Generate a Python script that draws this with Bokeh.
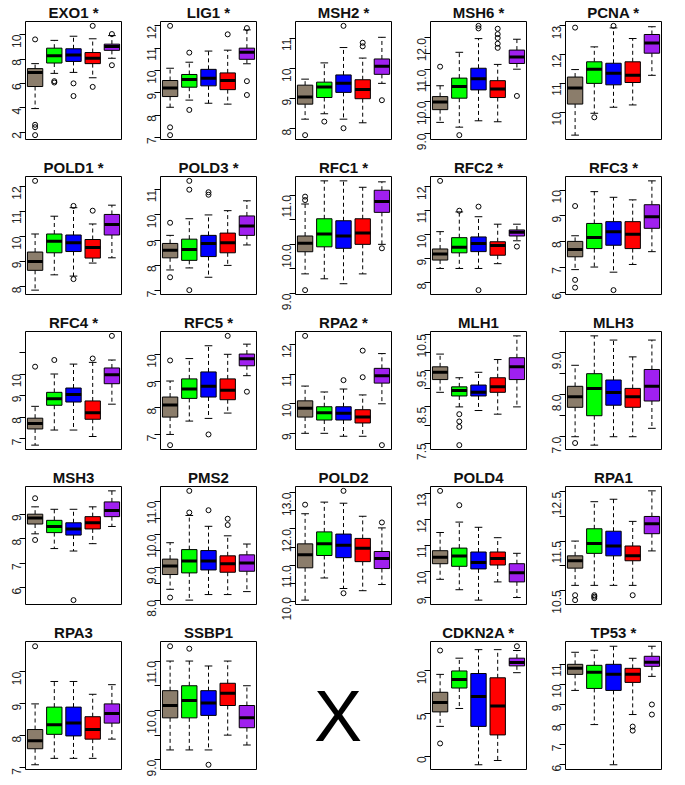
import math
from bokeh.plotting import figure
from bokeh.layouts import column, row
from bokeh.models import (FixedTicker, PrintfTickFormatter, Range1d, Label,
                          ColumnDataSource)
from bokeh.transform import dodge
from bokeh.embed import file_html
from bokeh.resources import INLINE

# ---------------- data ----------------
GENES = ["EXO1 *", "LIG1 *", "MSH2 *", "MSH6 *", "PCNA *",
         "POLD1 *", "POLD3 *", "RFC1 *", "RFC2 *", "RFC3 *",
         "RFC4 *", "RFC5 *", "RPA2 *", "MLH1", "MLH3",
         "MSH3", "PMS2", "POLD2", "POLD4", "RPA1",
         "RPA3", "SSBP1", "CDKN2A *", "TP53 *"]

GROUP_COLORS = ["#8B7D6B", "#00FF00", "#0000FF", "#FF0000", "#A020F0"]
GROUP_X = [1, 2, 3, 4, 5]

# five groups per gene
WHISK_LO = [
    [3.93, 6.82, 6.90, 6.46, 8.06], [8.35, 8.67, 8.53, 8.49, 10.30],
    [8.32, 8.50, 8.32, 8.20, 9.51], [9.35, 9.20, 9.40, 9.37, 11.02],
    [9.20, 9.96, 10.17, 10.25, 11.28], [7.86, 8.47, 8.42, 8.94, 9.15],
    [7.82, 7.90, 7.53, 8.00, 8.81], [9.40, 9.30, 9.20, 9.40, 10.00],
    [8.60, 8.60, 8.60, 8.80, 9.75], [6.90, 7.00, 6.80, 7.10, 7.60],
    [6.70, 7.40, 7.40, 7.10, 8.60], [7.00, 7.50, 7.60, 7.80, 9.20],
    [9.00, 9.00, 8.90, 8.90, 10.00], [8.90, 8.50, 8.40, 8.30, 8.50],
    [7.00, 6.80, 7.00, 7.00, 7.20], [8.20, 7.60, 7.50, 7.80, 8.50],
    [8.33, 8.00, 8.17, 8.17, 8.26], [10.04, 10.65, 10.36, 10.30, 10.47],
    [9.70, 9.30, 8.90, 9.60, 9.00], [10.60, 10.60, 10.60, 10.60, 11.30],
    [7.10, 7.30, 7.30, 7.30, 7.90], [9.20, 9.20, 9.20, 9.50, 9.30],
    [3.50, 5.60, -1.00, -0.50, 9.80], [9.70, 8.00, 6.00, 8.50, 10.40],
]
Q1 = [
    [5.74, 7.67, 7.80, 7.62, 8.71], [8.83, 9.25, 9.31, 9.14, 10.50],
    [8.82, 9.04, 9.21, 9.00, 9.81], [9.75, 10.11, 10.37, 10.13, 11.20],
    [10.28, 11.00, 10.95, 11.03, 12.05], [8.65, 9.35, 9.40, 9.14, 10.06],
    [8.30, 8.20, 8.35, 8.50, 9.19], [9.85, 9.95, 9.92, 10.00, 10.65],
    [8.95, 9.25, 9.30, 9.15, 9.95], [7.40, 7.72, 7.85, 7.72, 8.51],
    [7.45, 8.55, 8.70, 7.90, 9.55], [7.65, 8.35, 8.40, 8.30, 9.57],
    [9.55, 9.45, 9.45, 9.35, 10.70], [9.25, 8.80, 8.80, 8.90, 9.25],
    [7.70, 7.50, 7.75, 7.70, 7.85], [8.60, 8.25, 8.15, 8.40, 8.90],
    [8.78, 8.83, 8.92, 8.85, 8.88], [10.93, 11.27, 11.21, 11.10, 10.91],
    [10.30, 10.20, 10.10, 10.25, 9.60], [10.95, 11.25, 11.20, 11.10, 11.65],
    [7.60, 8.05, 8.00, 7.90, 8.40], [9.85, 9.85, 9.90, 10.10, 9.65],
    [5.20, 8.00, 3.50, 2.50, 10.60], [10.50, 9.80, 9.70, 10.10, 10.90],
]
MEDIAN = [
    [6.90, 8.27, 8.32, 8.06, 9.02], [9.21, 9.59, 9.65, 9.55, 10.82],
    [9.06, 9.39, 9.51, 9.31, 10.08], [9.99, 10.48, 10.72, 10.40, 11.40],
    [10.84, 11.49, 11.35, 11.28, 12.40], [9.00, 9.81, 9.75, 9.56, 10.48],
    [8.60, 8.63, 8.87, 8.90, 9.56], [10.02, 10.21, 10.17, 10.23, 10.87],
    [9.20, 9.48, 9.64, 9.55, 10.11], [7.68, 8.15, 8.38, 8.28, 8.96],
    [7.70, 8.85, 9.05, 8.20, 9.97], [8.10, 8.70, 8.80, 8.65, 9.83],
    [9.85, 9.70, 9.68, 9.55, 10.95], [9.45, 8.95, 8.90, 9.05, 9.60],
    [7.95, 8.15, 8.05, 7.95, 8.20], [8.85, 8.50, 8.40, 8.65, 9.15],
    [9.04, 9.19, 9.19, 9.11, 9.13], [11.29, 11.59, 11.55, 11.47, 11.19],
    [10.55, 10.60, 10.35, 10.50, 9.95], [11.10, 11.45, 11.40, 11.20, 11.85],
    [7.85, 8.35, 8.40, 8.20, 8.70], [10.10, 10.20, 10.15, 10.35, 9.85],
    [6.30, 9.00, 7.00, 5.90, 11.00], [10.80, 10.60, 10.50, 10.50, 11.10],
]
Q3 = [
    [7.21, 8.89, 8.84, 8.53, 9.22], [9.55, 9.82, 10.05, 9.89, 11.00],
    [9.45, 9.55, 9.79, 9.63, 10.32], [10.16, 10.74, 11.05, 10.66, 11.62],
    [11.22, 11.75, 11.70, 11.75, 12.70], [9.38, 10.10, 10.06, 9.88, 10.88],
    [8.87, 9.04, 9.19, 9.28, 9.96], [10.17, 10.52, 10.48, 10.52, 11.10],
    [9.41, 9.88, 9.91, 9.71, 10.20], [8.00, 8.70, 8.77, 8.77, 9.43],
    [7.95, 9.15, 9.35, 8.75, 10.28], [8.40, 9.08, 9.34, 9.08, 10.01],
    [10.10, 9.90, 9.90, 9.80, 11.20], [9.60, 9.05, 9.10, 9.30, 9.85],
    [8.20, 8.50, 8.35, 8.15, 8.60], [9.00, 8.75, 8.65, 8.90, 9.50],
    [9.25, 9.54, 9.51, 9.35, 9.38], [11.59, 11.92, 11.86, 11.74, 11.38],
    [10.80, 10.90, 10.75, 10.75, 10.30], [11.20, 11.75, 11.70, 11.40, 12.00],
    [8.20, 8.90, 8.90, 8.60, 9.00], [10.40, 10.50, 10.40, 10.55, 10.10],
    [7.50, 10.00, 9.70, 9.20, 11.50], [11.00, 10.95, 11.00, 10.80, 11.40],
]
WHISK_HI = [
    [7.62, 9.53, 9.87, 9.66, 9.92], [10.10, 10.37, 10.87, 10.91, 11.82],
    [9.65, 10.19, 10.70, 10.35, 11.04], [10.50, 11.55, 11.98, 11.17, 11.96],
    [11.48, 12.27, 12.93, 12.56, 12.97], [10.10, 10.81, 11.15, 10.50, 11.25],
    [9.19, 9.85, 10.00, 10.17, 10.56], [10.82, 11.29, 11.29, 11.16, 11.27],
    [10.13, 10.95, 10.75, 10.44, 10.44], [8.22, 9.94, 9.72, 9.62, 10.36],
    [8.50, 10.00, 10.46, 10.54, 10.65], [9.00, 9.84, 10.32, 10.00, 10.38],
    [10.60, 10.40, 10.50, 10.30, 11.70], [9.95, 9.30, 9.45, 9.80, 10.45],
    [8.70, 9.40, 9.30, 8.90, 9.30], [9.30, 9.20, 9.20, 9.30, 9.95],
    [9.75, 10.58, 10.25, 9.96, 9.71], [12.42, 12.74, 12.71, 12.35, 12.03],
    [11.50, 11.90, 11.70, 11.30, 10.70], [11.50, 12.30, 12.35, 11.90, 12.52],
    [9.00, 9.70, 9.70, 9.30, 9.60], [11.00, 11.00, 10.90, 11.00, 10.50],
    [9.60, 11.50, 12.50, 12.50, 12.40], [11.60, 11.70, 11.90, 11.30, 11.90],
]
# outliers: (group number 1-5, value)
OUTLIERS = [
    [(1, 9.61), (1, 2.60), (1, 2.40), (1, 1.75), (2, 6.18), (2, 6.07), (3, 6.00),
     (3, 4.96), (4, 10.72), (4, 5.71), (5, 10.05), (5, 7.49)],
    [(1, 12.00), (1, 7.45), (1, 7.10), (2, 10.80), (2, 8.23), (4, 11.62),
     (5, 11.90), (5, 9.52), (5, 8.90)],
    [(1, 7.79), (2, 8.24), (3, 11.42), (3, 8.02), (4, 10.86), (4, 10.74), (5, 8.95)],
    [(1, 11.10), (2, 8.95), (3, 12.38), (3, 12.30), (4, 12.29), (4, 12.12),
     (4, 12.00), (4, 11.82), (4, 11.69), (5, 10.18)],
    [(1, 12.94), (2, 9.82), (3, 13.00)],
    [(1, 12.22), (3, 11.22), (3, 8.30), (4, 11.03)],
    [(1, 9.69), (1, 7.53), (2, 11.35), (2, 11.00), (2, 7.02), (3, 10.90), (3, 10.80)],
    [(1, 10.97), (1, 10.90), (1, 9.07), (5, 9.92)],
    [(1, 12.24), (2, 11.00), (3, 11.17), (3, 7.70), (5, 9.51)],
    [(1, 9.38), (1, 6.50), (1, 6.20), (3, 6.10)],
    [(1, 10.34), (2, 10.65), (4, 10.72), (5, 11.77)],
    [(1, 9.77), (1, 6.60), (3, 7.00), (4, 10.69), (5, 8.60)],
    [(1, 12.30), (3, 10.80), (4, 11.80), (4, 10.90), (5, 8.60)],
    [(2, 8.30), (2, 8.10), (2, 7.95), (2, 7.45)],
    [(1, 6.85)],
    [(1, 9.65), (1, 7.95), (3, 5.50)],
    [(1, 8.08), (2, 10.67), (2, 11.33), (3, 10.74), (4, 10.48), (4, 10.29)],
    [(1, 12.67), (3, 10.23), (3, 13.05), (5, 12.18)],
    [(1, 13.10), (2, 12.55)],
    [(1, 10.40), (1, 10.30), (2, 10.40), (2, 10.37), (2, 10.34), (4, 10.40)],
    [(1, 10.80)],
    [(1, 11.30), (2, 11.25), (3, 8.90)],
    [(1, 12.40), (1, 1.50), (5, 12.90)],
    [(4, 7.90), (4, 7.70), (5, 9.00), (5, 8.50)],
]
# y-axis ticks: labelled ticks, unlabelled ticks, label format
TICKS = [
    [2, 4, 6, 8, 10], [7, 8, 9, 10, 11, 12], [8, 9, 10, 11], [9, 10, 11, 12],
    [10, 11, 12, 13], [8, 9, 10, 11, 12], [7, 8, 9, 10, 11], [9, 10, 11],
    [8, 9, 10, 11, 12], [6, 7, 8, 9, 10], [7, 8, 9, 10], [7, 8, 9, 10],
    [9, 10, 11, 12], [7.5, 8.5, 9.5, 10.5], [7, 8, 9], [6, 7, 8, 9],
    [8, 9, 10, 11], [10, 11, 12, 13], [9, 10, 11, 12, 13], [10.5, 11.5, 12.5],
    [7, 8, 9, 10], [9, 10, 11], [0, 5, 10], [6, 7, 8, 9, 10, 11],
]
MINOR_TICKS = [
    [], [], [], [9.5, 10.5, 11.5], [], [], [], [9.5, 10.5], [], [], [11], [],
    [], [8.0, 9.0, 10.0], [7.5, 8.5, 9.5], [], [8.5, 9.5, 10.5], [10.5, 11.5, 12.5],
    [], [11.0, 12.0], [], [9.5, 10.5], [], [],
]
TICK_FORMAT = ["%d", "%d", "%d", "%.1f", "%d", "%d", "%d", "%.1f", "%d", "%d", "%d", "%d",
               "%d", "%.1f", "%.1f", "%d", "%.1f", "%.1f", "%d", "%.1f", "%d", "%.1f", "%d", "%d"]

# ---------------- drawing ----------------
W = 135
H_ROW = 155
H_LAST = 157
FONT = "Liberation Sans"


def make_panel(i, height=H_ROW, bottom=16):
    vals = WHISK_LO[i] + WHISK_HI[i] + [v for _, v in OUTLIERS[i]]
    lo, hi = min(vals), max(vals)
    pad = 0.04 * (hi - lo)
    p = figure(width=W, height=height, x_range=Range1d(0.5, 5.5),
               y_range=Range1d(lo - pad, hi + pad), title=GENES[i],
               output_backend="svg", toolbar_location=None,
               min_border_left=25, min_border_right=14, min_border_top=0,
               min_border_bottom=bottom)
    p.title.align = "center"
    p.title.text_font = FONT
    p.title.text_font_size = "15px"
    p.title.text_font_style = "bold"
    p.title.text_color = "#111111"
    p.title.standoff = 2
    p.xaxis.visible = False
    p.grid.visible = False
    p.outline_line_color = "black"
    p.outline_line_width = 1
    p.outline_line_alpha = 1
    p.background_fill_color = "white"
    p.border_fill_color = "white"

    ax = p.yaxis[0]
    ax.ticker = FixedTicker(ticks=TICKS[i], minor_ticks=MINOR_TICKS[i])
    ax.formatter = PrintfTickFormatter(format=TICK_FORMAT[i])
    ax.major_label_orientation = math.pi / 2
    ax.axis_line_color = None
    ax.major_tick_out = 6
    ax.major_tick_in = 0
    ax.minor_tick_out = 6
    ax.minor_tick_in = 0
    ax.major_tick_line_color = "black"
    ax.minor_tick_line_color = "black"
    ax.major_label_text_font = FONT
    ax.major_label_text_font_size = "12px"
    ax.major_label_text_color = "#222222"
    ax.major_label_standoff = 3

    src = ColumnDataSource(dict(x=GROUP_X, lo=WHISK_LO[i], q1=Q1[i], med=MEDIAN[i],
                                q3=Q3[i], hi=WHISK_HI[i], color=GROUP_COLORS))
    p.segment(x0="x", y0="q3", x1="x", y1="hi", source=src, line_color="black",
              line_dash="4 3", line_width=1)
    p.segment(x0="x", y0="q1", x1="x", y1="lo", source=src, line_color="black",
              line_dash="4 3", line_width=1)
    p.segment(x0=dodge("x", -0.2), y0="hi", x1=dodge("x", 0.2), y1="hi", source=src,
              line_color="black", line_width=1)
    p.segment(x0=dodge("x", -0.2), y0="lo", x1=dodge("x", 0.2), y1="lo", source=src,
              line_color="black", line_width=1)
    p.vbar(x="x", bottom="q1", top="q3", width=0.8, fill_color="color",
           line_color="black", line_width=1, source=src)
    p.segment(x0=dodge("x", -0.4), y0="med", x1=dodge("x", 0.4), y1="med", source=src,
              line_color="black", line_width=3)
    if OUTLIERS[i]:
        p.scatter(x=[g for g, _ in OUTLIERS[i]], y=[v for _, v in OUTLIERS[i]],
                  marker="circle", size=5, fill_color=None, line_color="black",
                  line_width=1)
    return p


def make_blank(height):
    p = figure(width=W, height=height, x_range=Range1d(0, 1), y_range=Range1d(0, 1),
               output_backend="svg", toolbar_location=None,
               min_border_left=0, min_border_right=0, min_border_top=0,
               min_border_bottom=0)
    p.axis.visible = False
    p.grid.visible = False
    p.outline_line_color = None
    p.add_layout(Label(x=0.5, y=0.42, text="X", text_align="center",
                       text_baseline="middle", text_font=FONT,
                       text_font_size="72px", text_color="black"))
    return p


rows = []
idx = 0
for r in range(4):
    figs = []
    for c in range(5):
        figs.append(make_panel(idx))
        idx += 1
    rows.append(row(*figs, spacing=0))
last = [make_panel(20, H_LAST, 8), make_panel(21, H_LAST, 8), make_blank(H_LAST),
        make_panel(22, H_LAST, 8), make_panel(23, H_LAST, 8)]
rows.append(row(*last, spacing=0))
layout = column(*rows, spacing=0)

open("out.html", "w").write(file_html(layout, INLINE))
